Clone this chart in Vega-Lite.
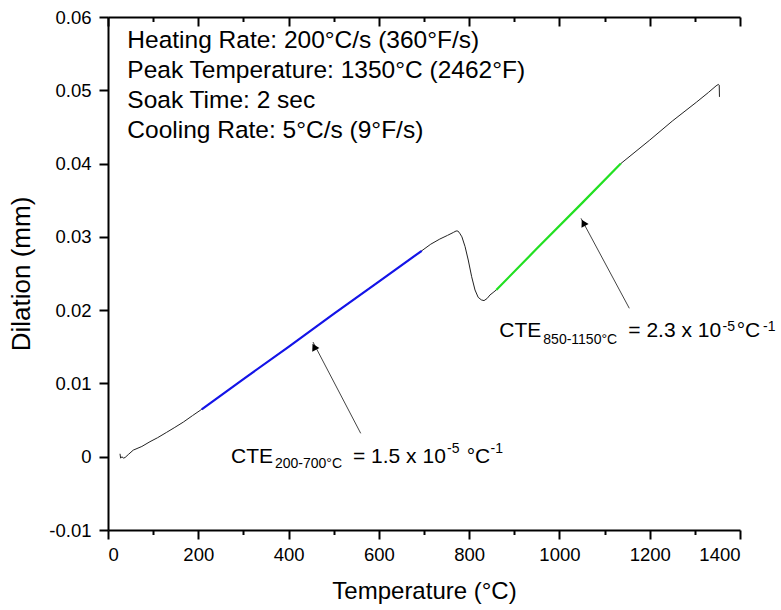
{
  "$schema": "https://vega.github.io/schema/vega-lite/v6.json",
  "width": 632,
  "height": 513,
  "autosize": "none",
  "padding": {"left": 108, "top": 17, "right": 41, "bottom": 80},
  "background": "white",
  "config": {
    "view": {"stroke": null},
    "axis": {
      "domainColor": "black", "domainWidth": 2, "tickColor": "black", "tickWidth": 2,
      "labelColor": "black", "labelFont": "Liberation Sans", "labelFontSize": 18.5,
      "titleFont": "Liberation Sans", "titleFontWeight": "normal", "titleFontSize": 24,
      "titleColor": "black", "grid": false
    }
  },
  "datasets": {
    "curve": [
      {"T": 26.6, "D": 0.0004}, {"T": 28, "D": -0.0002}, {"T": 31, "D": 0.0}, {"T": 34, "D": -0.0002},
      {"T": 38, "D": -0.0001}, {"T": 45, "D": 0.0003}, {"T": 56, "D": 0.0009}, {"T": 75, "D": 0.0014},
      {"T": 93, "D": 0.00205}, {"T": 110, "D": 0.0026}, {"T": 130, "D": 0.00333}, {"T": 148, "D": 0.004},
      {"T": 167, "D": 0.00473}, {"T": 187, "D": 0.0056}, {"T": 207.6, "D": 0.00647}, {"T": 300, "D": 0.0106},
      {"T": 400, "D": 0.015}, {"T": 500, "D": 0.0195}, {"T": 600, "D": 0.0239}, {"T": 695, "D": 0.0281},
      {"T": 715, "D": 0.029}, {"T": 735, "D": 0.0297}, {"T": 752, "D": 0.0302}, {"T": 765, "D": 0.0306},
      {"T": 771, "D": 0.0308}, {"T": 775, "D": 0.0308}, {"T": 779, "D": 0.0305}, {"T": 784, "D": 0.03},
      {"T": 791, "D": 0.02866}, {"T": 798, "D": 0.02684}, {"T": 805.6, "D": 0.02456}, {"T": 813, "D": 0.02275},
      {"T": 820, "D": 0.02175}, {"T": 827, "D": 0.0214}, {"T": 833, "D": 0.0213}, {"T": 840, "D": 0.0216},
      {"T": 846, "D": 0.02206}, {"T": 853, "D": 0.0224}, {"T": 860, "D": 0.02275}, {"T": 950, "D": 0.0284},
      {"T": 1050, "D": 0.0346}, {"T": 1136, "D": 0.04}, {"T": 1200, "D": 0.0432}, {"T": 1250, "D": 0.0458},
      {"T": 1304, "D": 0.0484}, {"T": 1330, "D": 0.0497}, {"T": 1347, "D": 0.0506}, {"T": 1352, "D": 0.0508},
      {"T": 1354, "D": 0.0507}, {"T": 1354.5, "D": 0.0491}
    ],
    "blue": [
      {"T": 207.6, "D": 0.00647}, {"T": 300, "D": 0.0106}, {"T": 400, "D": 0.015},
      {"T": 500, "D": 0.0195}, {"T": 600, "D": 0.0239}, {"T": 695, "D": 0.0281}
    ],
    "green": [
      {"T": 860, "D": 0.02275}, {"T": 950, "D": 0.0284}, {"T": 1050, "D": 0.0346}, {"T": 1136, "D": 0.04}
    ],
    "arrows": [
      {"T": 559.8, "D": 0.00319, "T2": 454.1, "D2": 0.01565},
      {"T": 1154.8, "D": 0.02025, "T2": 1047.8, "D2": 0.03253}
    ],
    "heads": [
      {"T": 456.7, "D": 0.015}, {"T": 1053.1, "D": 0.03193}
    ],
    "header": [
      {"T": 42.8, "D": 0.05572, "text": "Heating Rate: 200°C/s (360°F/s)"},
      {"T": 42.8, "D": 0.05163, "text": "Peak Temperature: 1350°C (2462°F)"},
      {"T": 42.8, "D": 0.04753, "text": "Soak Time: 2 sec"},
      {"T": 42.8, "D": 0.04344, "text": "Cooling Rate: 5°C/s (9°F/s)"}
    ],
    "annMain": [
      {"T": 272.5, "D": -0.00082, "text": "CTE"},
      {"T": 542.7, "D": -0.00082, "text": "= 1.5 x 10"},
      {"T": 794.6, "D": -0.00082, "text": "°C"},
      {"T": 866.8, "D": 0.01633, "text": "CTE"},
      {"T": 1152.6, "D": 0.01633, "text": "= 2.3 x 10"},
      {"T": 1392.7, "D": 0.01633, "text": "°C"}
    ],
    "annScript": [
      {"T": 369.9, "D": -0.00158, "text": "200-700°C"},
      {"T": 750.9, "D": 0.00046, "text": "-5"},
      {"T": 847.4, "D": 0.00046, "text": "-1"},
      {"T": 964.3, "D": 0.01538, "text": "850-1150°C"},
      {"T": 1361.2, "D": 0.01719, "text": "-5"},
      {"T": 1451, "D": 0.01719, "text": "-1"}
    ]
  },
  "resolve": {"axis": {"x": "independent"}},
  "layer": [
    {
      "data": {"name": "curve"},
      "mark": {"type": "line", "color": "#222222", "strokeWidth": 1},
      "encoding": {
        "x": {
          "field": "T", "type": "quantitative",
          "scale": {"domain": [0, 1400], "nice": false},
          "axis": {
            "orient": "bottom",
            "values": [0, 100, 200, 300, 400, 500, 600, 700, 800, 900, 1000, 1100, 1200, 1300, 1400],
            "format": "d",
            "labelExpr": "datum.value % 200 === 0 ? datum.label : ''",
            "tickSize": {"condition": {"test": "datum.value % 200 === 0", "value": 9}, "value": 4.5},
            "labelPadding": 6,
            "title": "Temperature (°C)",
            "titlePadding": 16
          }
        },
        "y": {
          "field": "D", "type": "quantitative",
          "scale": {"domain": [-0.01, 0.06], "nice": false, "zero": false},
          "axis": {
            "values": [-0.01, -0.005, 0, 0.005, 0.01, 0.015, 0.02, 0.025, 0.03, 0.035, 0.04, 0.045, 0.05, 0.055, 0.06],
            "labelExpr": "round(datum.value*200) % 2 === 0 ? (datum.value < 0 ? '-' : '') + format(abs(datum.value), '.2~f') : ''",
            "tickSize": {"condition": {"test": "round(datum.value*200) % 2 === 0", "value": 9}, "value": 4.5},
            "labelPadding": 8,
            "title": "Dilation (mm)",
            "titleFontSize": 26,
            "titlePadding": 14
          }
        }
      }
    },
    {
      "data": {"name": "blue"},
      "mark": {"type": "line", "color": "#1414e8", "strokeWidth": 2.2},
      "encoding": {
        "x": {
          "field": "T", "type": "quantitative",
          "axis": {
            "orient": "top",
            "values": [0, 100, 200, 300, 400, 500, 600, 700, 800, 900, 1000, 1100, 1200, 1300, 1400],
            "labels": false,
            "title": null,
            "tickSize": {"condition": {"test": "datum.value % 200 === 0", "value": -9}, "value": -4.5}
          }
        },
        "y": {"field": "D", "type": "quantitative"}
      }
    },
    {
      "data": {"name": "green"},
      "mark": {"type": "line", "color": "#22e022", "strokeWidth": 2.2},
      "encoding": {
        "x": {"field": "T", "type": "quantitative", "axis": null},
        "y": {"field": "D", "type": "quantitative"}
      }
    },
    {
      "data": {"name": "arrows"},
      "mark": {"type": "rule", "color": "#444444", "strokeWidth": 1},
      "encoding": {
        "x": {"field": "T", "type": "quantitative", "axis": null},
        "y": {"field": "D", "type": "quantitative"},
        "x2": {"field": "T2"},
        "y2": {"field": "D2"}
      }
    },
    {
      "data": {"name": "heads"},
      "mark": {"type": "point", "shape": "triangle-up", "filled": true, "color": "black", "opacity": 1, "size": 65, "angle": 332},
      "encoding": {
        "x": {"field": "T", "type": "quantitative", "axis": null},
        "y": {"field": "D", "type": "quantitative"}
      }
    },
    {
      "data": {"name": "header"},
      "mark": {"type": "text", "align": "left", "baseline": "alphabetic", "font": "Liberation Sans", "fontSize": 24.5, "color": "black"},
      "encoding": {
        "x": {"field": "T", "type": "quantitative", "axis": null},
        "y": {"field": "D", "type": "quantitative"},
        "text": {"field": "text"}
      }
    },
    {
      "data": {"name": "annMain"},
      "mark": {"type": "text", "align": "left", "baseline": "alphabetic", "font": "Liberation Sans", "fontSize": 21, "color": "black"},
      "encoding": {
        "x": {"field": "T", "type": "quantitative", "axis": null},
        "y": {"field": "D", "type": "quantitative"},
        "text": {"field": "text"}
      }
    },
    {
      "data": {"name": "annScript"},
      "mark": {"type": "text", "align": "left", "baseline": "alphabetic", "font": "Liberation Sans", "fontSize": 14, "color": "black"},
      "encoding": {
        "x": {"field": "T", "type": "quantitative", "axis": null},
        "y": {"field": "D", "type": "quantitative"},
        "text": {"field": "text"}
      }
    }
  ]
}
